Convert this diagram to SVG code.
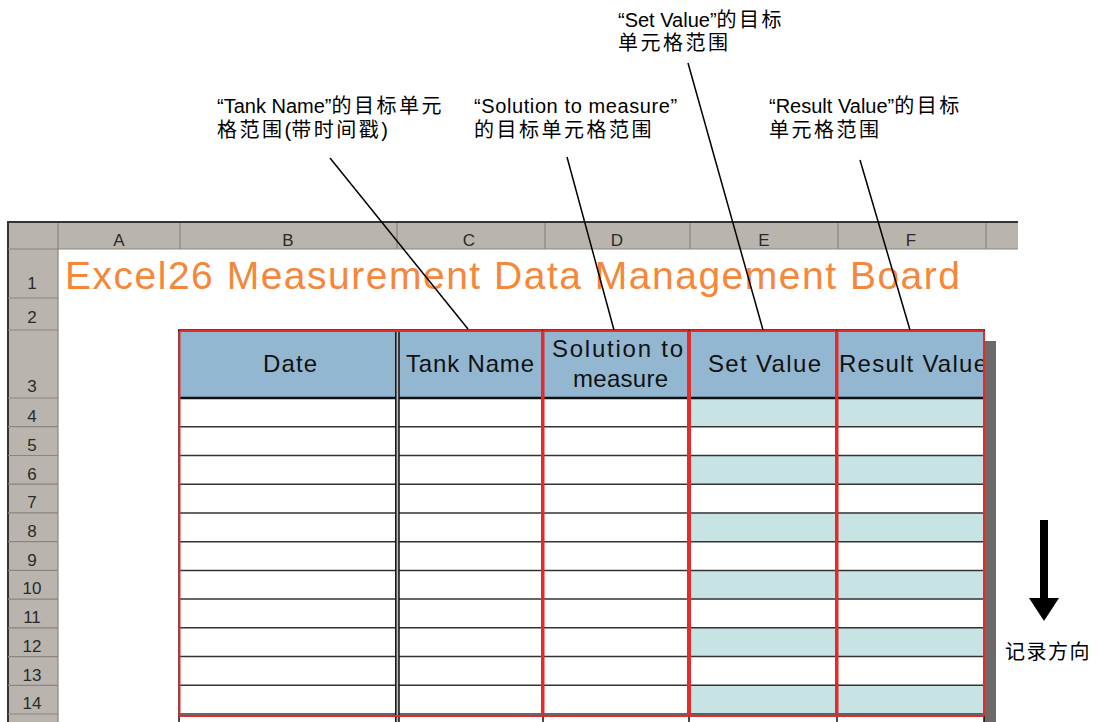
<svg xmlns="http://www.w3.org/2000/svg" width="1098" height="722" viewBox="0 0 1098 722">
  <style>
    .lbl { font-family: "Liberation Sans", "Noto Sans CJK SC", sans-serif; font-size: 20px; fill: #000; }
    .cjk { letter-spacing: 2.5px; }
    .hdr { font-family: "Liberation Sans", "DejaVu Sans", sans-serif; font-size: 17px; fill: #2a2a2a; text-anchor: middle; }
    .th { font-family: "Liberation Sans", sans-serif; font-size: 24px; fill: #111; }
    .hbg { fill: #B9B5AE; }
    .gsep { stroke: #8a857e; stroke-width: 1.2; }
    .rowline { stroke: #333; stroke-width: 1.5; }
    .colline { stroke: #111; stroke-width: 1.5; }
    .red { fill: none; stroke: #E42B2B; stroke-width: 2; }
    .teal { fill: #C8E3E3; }
    .conn { stroke: #000; stroke-width: 1.5; fill: none; }
  </style>
  <defs>
    <clipPath id="clipF">
      <rect x="838" y="331" width="146" height="67"/>
    </clipPath>
  </defs>

  <rect x="0" y="0" width="1098" height="722" fill="#fff"/>

  <!-- spreadsheet frame: column letters and row numbers -->
  <g id="sheet-frame">
    <rect class="hbg" x="8" y="223" width="1010" height="26"/>
    <rect class="hbg" x="8" y="223" width="50" height="499"/>
    <line x1="7" y1="222" x2="1018" y2="222" stroke="#333" stroke-width="2"/>
    <line x1="8" y1="222" x2="8" y2="722" stroke="#333" stroke-width="2"/>
    <line class="gsep" x1="58" y1="223" x2="58" y2="722"/>
    <line class="gsep" x1="58" y1="249" x2="1018" y2="249"/>
    <line class="gsep" x1="180" y1="223" x2="180" y2="249"/>
    <line class="gsep" x1="397" y1="223" x2="397" y2="249"/>
    <line class="gsep" x1="545" y1="223" x2="545" y2="249"/>
    <line class="gsep" x1="690" y1="223" x2="690" y2="249"/>
    <line class="gsep" x1="838" y1="223" x2="838" y2="249"/>
    <line class="gsep" x1="986" y1="223" x2="986" y2="249"/>
    <text class="hdr" x="119" y="246">A</text>
    <text class="hdr" x="288" y="246">B</text>
    <text class="hdr" x="469" y="246">C</text>
    <text class="hdr" x="617" y="246">D</text>
    <text class="hdr" x="764" y="246">E</text>
    <text class="hdr" x="911" y="246">F</text>
    <!-- row header separators -->
    <g class="gsep">
      <line x1="8" y1="249" x2="58" y2="249"/>
      <line x1="8" y1="298" x2="58" y2="298"/>
      <line x1="8" y1="330" x2="58" y2="330"/>
      <line x1="8" y1="398" x2="58" y2="398"/>
      <line x1="8" y1="426.7" x2="58" y2="426.7"/>
      <line x1="8" y1="455.5" x2="58" y2="455.5"/>
      <line x1="8" y1="484.2" x2="58" y2="484.2"/>
      <line x1="8" y1="512.9" x2="58" y2="512.9"/>
      <line x1="8" y1="541.7" x2="58" y2="541.7"/>
      <line x1="8" y1="570.4" x2="58" y2="570.4"/>
      <line x1="8" y1="599.1" x2="58" y2="599.1"/>
      <line x1="8" y1="627.8" x2="58" y2="627.8"/>
      <line x1="8" y1="656.6" x2="58" y2="656.6"/>
      <line x1="8" y1="685.3" x2="58" y2="685.3"/>
      <line x1="8" y1="714" x2="58" y2="714"/>
    </g>
    <text class="hdr" x="32" y="289">1</text>
    <text class="hdr" x="32" y="323">2</text>
    <text class="hdr" x="32" y="392">3</text>
    <text class="hdr" x="32" y="422">4</text>
    <text class="hdr" x="32" y="450.7">5</text>
    <text class="hdr" x="32" y="479.5">6</text>
    <text class="hdr" x="32" y="508.2">7</text>
    <text class="hdr" x="32" y="536.9">8</text>
    <text class="hdr" x="32" y="565.7">9</text>
    <text class="hdr" x="32" y="594.4">10</text>
    <text class="hdr" x="32" y="623.1">11</text>
    <text class="hdr" x="32" y="651.8">12</text>
    <text class="hdr" x="32" y="680.6">13</text>
    <text class="hdr" x="32" y="709.3">14</text>
  </g>

  <!-- sheet title -->
  <g id="title">
    <text x="65" y="289" font-family="Liberation Sans, sans-serif" font-size="39" fill="#F5873A" textLength="895" lengthAdjust="spacing">Excel26 Measurement Data Management Board</text>
  </g>

  <!-- data table -->
  <g id="table">
    <rect x="984" y="341" width="12" height="381" fill="#6E6A69"/>
    <rect x="179" y="331" width="805" height="67" fill="#93B7D1"/>
    <rect x="179" y="398" width="805" height="324" fill="#fff"/>
    <g class="teal">
      <rect x="690" y="398" width="294" height="28.7"/>
      <rect x="690" y="455.5" width="294" height="28.7"/>
      <rect x="690" y="512.9" width="294" height="28.7"/>
      <rect x="690" y="570.4" width="294" height="28.7"/>
      <rect x="690" y="627.8" width="294" height="28.7"/>
      <rect x="690" y="685.3" width="294" height="28.7"/>
    </g>
    <g class="rowline">
      <line x1="179" y1="426.7" x2="984" y2="426.7"/>
      <line x1="179" y1="455.5" x2="984" y2="455.5"/>
      <line x1="179" y1="484.2" x2="984" y2="484.2"/>
      <line x1="179" y1="512.9" x2="984" y2="512.9"/>
      <line x1="179" y1="541.7" x2="984" y2="541.7"/>
      <line x1="179" y1="570.4" x2="984" y2="570.4"/>
      <line x1="179" y1="599.1" x2="984" y2="599.1"/>
      <line x1="179" y1="627.8" x2="984" y2="627.8"/>
      <line x1="179" y1="656.6" x2="984" y2="656.6"/>
      <line x1="179" y1="685.3" x2="984" y2="685.3"/>
      <line x1="179" y1="714" x2="984" y2="714"/>
    </g>
    <line x1="179" y1="398" x2="984" y2="398" stroke="#111" stroke-width="2.5"/>
    <line x1="178" y1="330" x2="985" y2="330" stroke="#111" stroke-width="1.5"/>
    <rect x="396" y="330" width="3" height="392" fill="#bdbdbd"/>
    <g class="colline">
      <line x1="179" y1="330" x2="179" y2="722"/>
      <line x1="395.8" y1="330" x2="395.8" y2="722"/>
      <line x1="399" y1="330" x2="399" y2="722"/>
      <line x1="543" y1="330" x2="543" y2="722"/>
      <line x1="689" y1="330" x2="689" y2="722"/>
      <line x1="837" y1="330" x2="837" y2="722"/>
      <line x1="984" y1="330" x2="984" y2="722"/>
    </g>
    <text class="th" x="263" y="372" textLength="54" lengthAdjust="spacing">Date</text>
    <text class="th" x="406" y="372" textLength="128" lengthAdjust="spacing">Tank Name</text>
    <text class="th" x="552" y="357" textLength="131" lengthAdjust="spacing">Solution to</text>
    <text class="th" x="573" y="387" textLength="95" lengthAdjust="spacing">measure</text>
    <text class="th" x="708" y="372" textLength="113" lengthAdjust="spacing">Set Value</text>
    <text class="th" x="839" y="372" textLength="148" lengthAdjust="spacing" clip-path="url(#clipF)">Result Value</text>
    <rect class="red" x="179.5" y="331" width="362.5" height="385" rx="1"/>
    <rect class="red" x="543.5" y="331" width="144.5" height="385" rx="1"/>
    <rect class="red" x="690" y="331" width="146" height="385" rx="1"/>
    <rect class="red" x="837.5" y="331" width="146.5" height="385" rx="1"/>
  </g>

  <!-- leader lines from notes to column ranges -->
  <g id="connectors">
    <line class="conn" x1="330" y1="158" x2="468" y2="329"/>
    <line class="conn" x1="567" y1="157" x2="614" y2="330"/>
    <line class="conn" x1="688" y1="63" x2="763" y2="330"/>
    <line class="conn" x1="860" y1="160" x2="910" y2="330"/>
  </g>

  <g id="note-tank">
    <text class="lbl" x="217" y="113">“Tank Name”<tspan class="cjk">的目标单元</tspan></text>
    <text class="lbl" x="217" y="137"><tspan class="cjk">格范围</tspan>(<tspan class="cjk">带时间戳</tspan>)</text>
  </g>
  <g id="note-solution">
    <text class="lbl" x="474" y="113" letter-spacing="0.6">“Solution to measure”</text>
    <text class="lbl cjk" x="474" y="137" letter-spacing="1">的目标单元格范围</text>
  </g>
  <g id="note-set">
    <text class="lbl" x="618" y="27">“Set Value”<tspan class="cjk">的目标</tspan></text>
    <text class="lbl cjk" x="618" y="50">单元格范围</text>
  </g>
  <g id="note-result">
    <text class="lbl" x="769" y="113">“Result Value”<tspan class="cjk">的目标</tspan></text>
    <text class="lbl cjk" x="769" y="137">单元格范围</text>
  </g>

  <!-- recording direction -->
  <g id="direction">
    <rect x="1040" y="520" width="8" height="80" fill="#000"/>
    <polygon points="1029,598 1059,598 1044,621" fill="#000"/>
    <text class="lbl" x="1005" y="659" letter-spacing="1.5">记录方向</text>
  </g>
</svg>
